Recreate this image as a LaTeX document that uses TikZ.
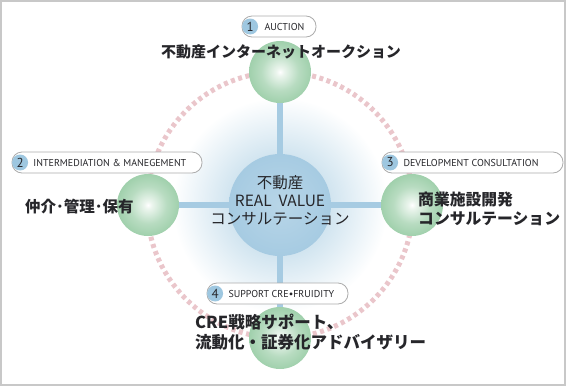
\documentclass[tikz,border=0pt]{standalone}
\usepackage{fontspec}
\setmainfont{Noto Sans CJK JP}
\newfontfamily\capsfont{PT Sans}
\usetikzlibrary{positioning}

\definecolor{ballgreen}{RGB}{160,208,172}
\definecolor{hubblue}{RGB}{166,203,226}
\definecolor{haloblue}{RGB}{210,229,240}
\definecolor{ringpink}{RGB}{234,198,203}
\definecolor{badgeblue}{RGB}{158,199,224}
\definecolor{ink}{RGB}{38,38,42}
\definecolor{framegray}{RGB}{200,200,200}

\pgfdeclareradialshading{ballshade}{\pgfpointorigin}{color(0bp)=(white); color(3bp)=(ballgreen!20!white); color(15bp)=(ballgreen!75!white); color(25bp)=(ballgreen); color(50bp)=(ballgreen)}
\pgfdeclareradialshading{haloshade}{\pgfpointorigin}{color(0bp)=(haloblue); color(12bp)=(haloblue); color(25bp)=(white); color(50bp)=(white)}
\pgfdeclareradialshading{hubshade}{\pgfpointorigin}{color(0bp)=(hubblue!80!white); color(25bp)=(hubblue); color(50bp)=(hubblue)}

\begin{document}
\begin{tikzpicture}[
  x=1pt,y=-1pt,text=ink,
  ball/.style={circle,shading=ballshade,minimum size=62pt,inner sep=0pt},
  spoke/.style={hubblue,line width=5.5pt},
  ring/.style={ringpink,line width=5pt,dash pattern=on 4pt off 3.5pt},
  pill/.style={draw=gray!65,fill=white,rounded corners=10pt,minimum height=21pt,line width=0.8pt,inner sep=0pt},
  badge/.style={circle,fill=badgeblue,minimum size=16pt,inner sep=0pt,font=\capsfont\fontsize{13}{13}\selectfont},
  tagtext/.style={font=\capsfont\fontsize{10}{10}\selectfont,inner sep=0pt},
  title/.style={font=\bfseries\fontsize{15}{20}\selectfont,align=left,inner sep=0pt},
]
  \useasboundingbox (0,0) rectangle (566,386);
  \draw[framegray,line width=2pt] (1,1) rectangle (565,385);

  \coordinate (O) at (280,205);
  \coordinate (N) at (280,72);
  \coordinate (W) at (148,205);
  \coordinate (E) at (412,205);
  \coordinate (S) at (280,338);

  \node[circle,shading=haloshade,minimum size=215pt] (halo) at (O) {};
  \draw[ring] (O) circle[radius=133pt];
  \draw[spoke] (O) -- (N);
  \draw[spoke] (O) -- (W);
  \draw[spoke] (O) -- (E);
  \draw[spoke] (O) -- (S);
  \node[circle,shading=hubshade,minimum size=102pt] (hub) at (O) {};
  \node[ball] (auction) at (N) {};
  \node[ball] (broker) at (W) {};
  \node[ball] (develop) at (E) {};
  \node[ball] (support) at (S) {};

  \node[align=center,font=\fontsize{15.5}{18}\selectfont] (core) at (280,200)
    {不動産\\REAL\ \ VALUE\\コンサルテーション};

  \node[pill,minimum width=74pt] (tag1) at (279,26.5) {};
  \node[badge] (num1) at ([xshift=8.5pt]tag1.west) {1};
  \node[tagtext,right=6pt of num1] {AUCTION};
  \node[pill,minimum width=190pt] (tag2) at (107,162.5) {};
  \node[badge] (num2) at ([xshift=8.5pt]tag2.west) {2};
  \node[tagtext,right=5pt of num2] {INTERMEDIATION \& MANEGEMENT};
  \node[pill,minimum width=181pt] (tag3) at (472.5,162.5) {};
  \node[badge] (num3) at ([xshift=8.5pt]tag3.west) {3};
  \node[tagtext,right=5pt of num3] {DEVELOPMENT CONSULTATION};
  \node[pill,minimum width=141pt] (tag4) at (277.5,293.5) {};
  \node[badge] (num4) at ([xshift=8.5pt]tag4.west) {4};
  \node[tagtext,right=5pt of num4] {SUPPORT CRE•FRUIDITY};

  \node[title] (title1) at (281,52) {不動産インターネットオークション};
  \node[title,anchor=west,font=\bfseries\fontsize{15.5}{20}\selectfont] (title2) at (25,207) {仲介･管理･保有};
  \node[title,anchor=west,font=\bfseries\fontsize{15.8}{19}\selectfont] (title3) at (418,209) {商業施設開発\\コンサルテーション};
  \node[title,anchor=west,font=\bfseries\fontsize{16.5}{20}\selectfont] (title4) at (195,332) {CRE戦略サポート、\\流動化・証券化アドバイザリー};
\end{tikzpicture}
\end{document}
